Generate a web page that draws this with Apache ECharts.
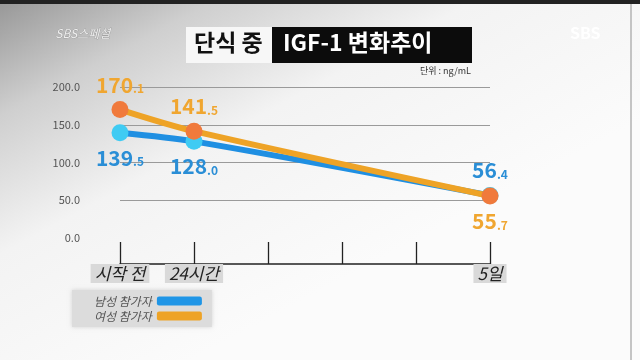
<!DOCTYPE html>
<html><head><meta charset="utf-8">
<script src="https://cdn.jsdelivr.net/npm/echarts@6/dist/echarts.min.js"></script>
<style>html,body{margin:0;padding:0;background:#fff}#c{width:640px;height:360px}</style>
</head><body><div id="c"></div>
<script>
const categories = ['시작 전', '24시간', '', '', '', '5일'];
const maleValues = [139.5, 128.0, null, null, null, 56.4];
const femaleValues = [170.1, 141.5, null, null, null, 55.7];
const yTicks = [0, 50, 100, 150, 200];
const maleName = '남성 참가자';
const femaleName = '여성 참가자';

const chart = echarts.init(document.getElementById('c'));
const font = '"Noto Sans CJK KR", "Noto Sans", sans-serif';

function labelFmt(p) {
  if (p.value == null) return '';
  const s = p.value.toFixed(1).split('.');
  return '{a|' + s[0] + '}{b|.' + s[1] + '}';
}
function mkData(vals, positions, color) {
  let k = 0;
  return vals.map(v => {
    if (v == null) return null;
    const pos = positions[k++];
    return {value: v, label: {show: true, position: pos, distance: 6,
      formatter: labelFmt,
      rich: {a: {fontSize: 21, fontWeight: 'bold', color: color, fontFamily: font},
             b: {fontSize: 12, fontWeight: 'bold', color: color, fontFamily: font, padding: [8,0,0,0]}}}};
  });
}

chart.setOption({
  animation: false,
  graphic: [
    {type: 'rect', z: -10, shape: {x: 0, y: 0, width: 640, height: 360},
     style: {fill: new echarts.graphic.LinearGradient(0, 0, 0.3, 1, [
       {offset: 0, color: '#979797'}, {offset: 0.25, color: '#cfcfcf'},
       {offset: 0.55, color: '#f3f3f3'}, {offset: 1, color: '#fbfbfb'}])}},
    {type: 'rect', z: -9, shape: {x: 0, y: 0, width: 640, height: 4}, style: {fill: '#222'}},
    {type: 'rect', z: -9, shape: {x: 630, y: 4, width: 2, height: 356}, style: {fill: '#c4c4c4'}},
    {type: 'rect', z: 5, shape: {x: 186, y: 27, width: 86, height: 36}, style: {fill: '#f7f7f7'}},
    {type: 'rect', z: 5, shape: {x: 272, y: 27, width: 200, height: 36}, style: {fill: '#0c0c0c'}},
    {type: 'text', z: 6, left: 194, top: 31, style: {text: '단식 중', fill: '#111', font: 'bold 23px ' + font}},
    {type: 'text', z: 6, left: 283, top: 31, style: {text: 'IGF-1 변화추이', fill: '#fff', font: 'bold 23px ' + font}},
    {type: 'text', z: 6, left: 55, top: 27, style: {text: 'SBS스페셜', fill: '#eee', font: 'italic 12px ' + font, stroke: '#888', lineWidth: 0.5}},
    {type: 'text', z: 6, left: 570, top: 25, style: {text: 'SBS', fill: '#fff', font: 'bold 16px ' + font}},
    {type: 'text', z: 6, left: 420, top: 66, style: {text: '단위 : ng/mL', fill: '#333', font: '9px ' + font}}
  ],
  grid: {left: 120, right: 150, top: 87, bottom: 122},
  legend: {
    orient: 'vertical', left: 72, top: 290, align: 'right', icon: 'roundRect',
    itemWidth: 45, itemHeight: 9, itemGap: 3,
    backgroundColor: '#dcdcdc', padding: [5, 10, 5, 22],
    shadowColor: 'rgba(0,0,0,0.15)', shadowBlur: 4,
    textStyle: {color: '#555', fontSize: 12, fontStyle: 'italic', fontFamily: font},
    data: [{name: maleName, itemStyle: {color: '#1f95e6'}}, {name: femaleName, itemStyle: {color: '#eea326'}}]
  },
  xAxis: {
    type: 'category', data: categories, boundaryGap: false, offset: 26,
    axisLine: {onZero: false, lineStyle: {color: '#222', width: 1.5}},
    axisTick: {inside: true, length: 22, lineStyle: {color: '#222', width: 1.3}},
    axisLabel: {margin: 0, interval: 0,
      formatter: v => v ? '{bg|' + v + '}' : '',
      rich: {bg: {color: '#222', fontSize: 17, fontStyle: 'italic', fontFamily: font,
        backgroundColor: '#d9d9d9', padding: [1, 4]}}},
    splitLine: {show: false}
  },
  yAxis: {
    type: 'value', min: 0, max: 200, interval: 50,
    axisLine: {show: false}, axisTick: {show: false},
    axisLabel: {color: '#555', fontSize: 11, fontFamily: font, margin: 40,
      formatter: v => v.toFixed(1)},
    splitLine: {showMinLine: false, lineStyle: {color: '#9a9a9a', width: 1}}
  },
  series: [
    {name: maleName, type: 'line', smooth: 0.3, connectNulls: true, z: 3,
     symbol: 'circle', symbolSize: 17,
     lineStyle: {color: '#1f8fe2', width: 6},
     itemStyle: {color: '#3fcbf3'},
     data: mkData(maleValues, ['bottom', 'bottom', 'top'], '#2a8ed6')},
    {name: femaleName, type: 'line', smooth: 0.3, connectNulls: true, z: 4,
     symbol: 'circle', symbolSize: 17,
     lineStyle: {color: '#eea326', width: 6},
     itemStyle: {color: '#f07a3c'},
     data: mkData(femaleValues, ['top', 'top', 'bottom'], '#f0a630')}
  ]
});
</script></body></html>
